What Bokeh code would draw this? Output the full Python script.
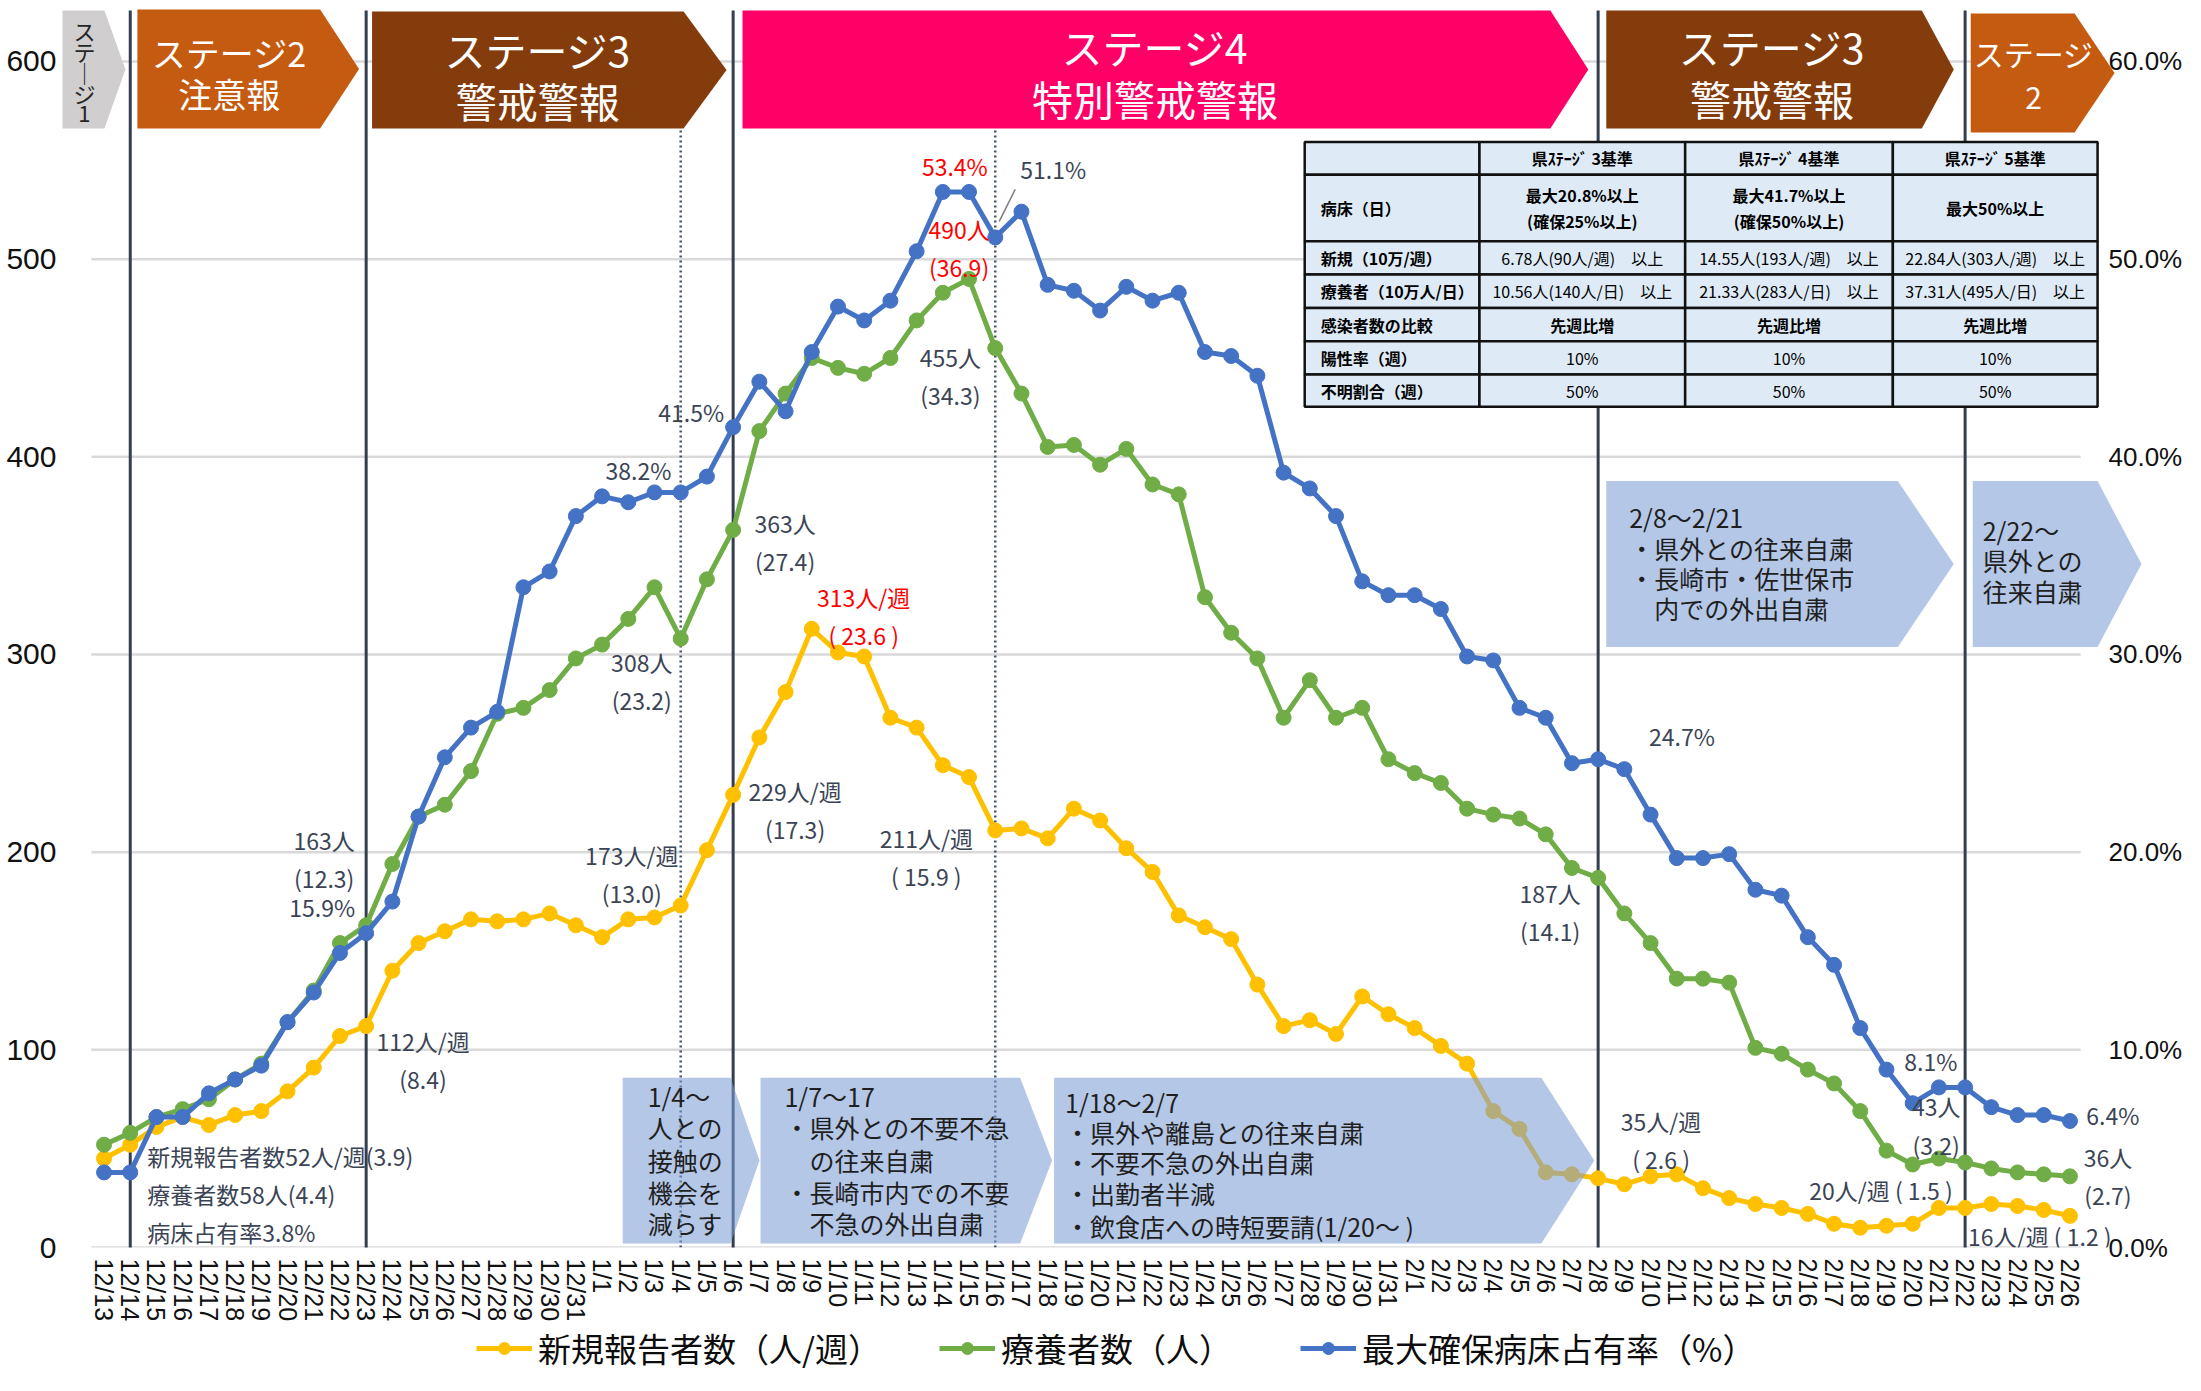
import math
from bokeh.plotting import figure
from bokeh.layouts import column
from bokeh.models import Range1d, LinearAxis, FixedTicker, PrintfTickFormatter, Legend, LegendItem
from bokeh.core.properties import value
from bokeh.embed import file_html
from bokeh.resources import INLINE

# ---------------- data ----------------
dates = ([f"12/{d}" for d in range(13, 32)] + [f"1/{d}" for d in range(1, 32)]
         + [f"2/{d}" for d in range(1, 27)])

new_cases = [45, 52, 61, 66, 62, 67, 69, 79, 91, 107,
             112, 140, 154, 160, 166, 165, 166, 169, 163, 157,
             166, 167, 173, 201, 229, 258, 281, 313, 301, 299,
             268, 263, 244, 238, 211, 212, 207, 222, 216, 202,
             190, 168, 162, 156, 133, 112, 115, 108, 127, 118,
             111, 102, 93, 69, 60, 38, 37, 35, 32, 36,
             37, 30, 25, 22, 20, 17, 12, 10, 11, 12,
             20, 20, 22, 21, 19, 16]

patients = [52, 58, 66, 70, 75, 85, 93, 114, 130, 154,
            163, 194, 218, 224, 241, 270, 273, 282, 298, 305,
            318, 334, 308, 338, 363, 413, 432, 450, 445, 442,
            450, 469, 483, 490, 455, 432, 405, 406, 396, 404,
            386, 381, 329, 311, 298, 268, 287, 268, 273, 247,
            240, 235, 222, 219, 217, 209, 192, 187, 169, 154,
            136, 136, 134, 101, 98, 90, 83, 69, 49, 42,
            45, 43, 40, 38, 37, 36]

bed_rate = [3.8, 3.8, 6.6, 6.6, 7.8, 8.5, 9.2, 11.4, 12.9, 14.9,
            15.9, 17.5, 21.8, 24.8, 26.3, 27.1, 33.4, 34.2, 37.0, 38.0,
            37.7, 38.2, 38.2, 39.0, 41.5, 43.8, 42.3, 45.3, 47.6, 46.9,
            47.9, 50.4, 53.4, 53.4, 51.1, 52.4, 48.7, 48.4, 47.4, 48.6,
            47.9, 48.3, 45.3, 45.1, 44.1, 39.2, 38.4, 37.0, 33.7, 33.0,
            33.0, 32.3, 29.9, 29.7, 27.3, 26.8, 24.5, 24.7, 24.2, 21.9,
            19.7, 19.7, 19.9, 18.1, 17.8, 15.7, 14.3, 11.1, 9.0, 7.3,
            8.1, 8.1, 7.1, 6.7, 6.7, 6.4]

left_ticks = [0, 100, 200, 300, 400, 500, 600]
right_ticks = [0, 10, 20, 30, 40, 50, 60]

legend_labels = ["新規報告者数（人/週）", "療養者数（人）", "最大確保病床占有率（%）"]
colors = ["#FFC000", "#70AD47", "#4472C4"]

# ---------------- layout helpers ----------------
W, H_MAIN, H_LEG = 2185, 1324, 51
FL, FR, FT, FB = 60, 2150, 0, 1248     # frame in figure px
X0, PXD = 103.6, 26.25                  # px of first date, px per day
PXU = 1.9783                            # px per unit on left axis
x_start = (FL - X0) / PXD
x_end = (FR - X0) / PXD
y_end = (FB - FT) / PXU

def gx(rx):  # picture x pixel -> data x
    return (rx - X0) / PXD

def gy(ry):  # picture y pixel -> data y
    return (FB - ry) / PXU

JP = value("Noto Sans CJK JP")

p = figure(width=W, height=H_MAIN, x_range=Range1d(x_start, x_end), y_range=Range1d(0, y_end),
           output_backend="svg", toolbar_location=None,
           min_border_left=FL, min_border_right=W - FR, min_border_top=FT,
           min_border_bottom=H_MAIN - FB)
p.xgrid.visible = False
p.ygrid.visible = False
p.outline_line_color = None
p.background_fill_color = "white"
p.border_fill_color = "white"

# left axis
ya = p.yaxis[0]
ya.ticker = FixedTicker(ticks=left_ticks)
ya.major_tick_in = 0
ya.major_tick_out = 0
ya.minor_tick_in = 0
ya.minor_tick_out = 0
ya.axis_line_color = None
ya.major_label_standoff = 4
ya.major_label_text_font = "Liberation Sans"
ya.major_label_text_font_size = "30px"
ya.major_label_text_color = "#111111"

# bottom axis
xa = p.xaxis[0]
xa.ticker = FixedTicker(ticks=list(range(len(dates))))
xa.major_label_overrides = {i: d for i, d in enumerate(dates)}
xa.major_label_orientation = "vertical"
xa.major_tick_in = 0
xa.major_tick_out = 0
xa.minor_tick_in = 0
xa.minor_tick_out = 0
xa.axis_line_color = None
xa.major_label_standoff = 11
xa.major_label_text_font = "Liberation Sans"
xa.major_label_text_font_size = "25px"
xa.major_label_text_color = "#111111"

# right axis
p.extra_y_ranges = {"pct": Range1d(0, y_end / 10)}
ra = LinearAxis(y_range_name="pct", ticker=FixedTicker(ticks=right_ticks),
                formatter=PrintfTickFormatter(format="%.1f%%"))
ra.major_tick_in = 0
ra.major_tick_out = 0
ra.minor_tick_in = 0
ra.minor_tick_out = 0
ra.axis_line_color = None
ra.major_label_standoff = 2111 - FR
ra.major_label_text_font = "Liberation Sans"
ra.major_label_text_font_size = "26px"
ra.major_label_text_color = "#111111"
p.add_layout(ra, "right")

# gridlines
p.segment(x0=[gx(91)] * len(left_ticks), x1=[gx(2083)] * len(left_ticks),
          y0=left_ticks, y1=left_ticks, line_color="#D9D9D9", line_width=2.5)

# vertical stage lines
for d in ["12/14", "12/23", "1/6", "2/8", "2/22"]:
    i = dates.index(d)
    p.segment(x0=[i], x1=[i], y0=[gy(10)], y1=[gy(1252)], line_color="#333F50", line_width=3)
for d in ["1/4", "1/16"]:
    i = dates.index(d)
    p.segment(x0=[i], x1=[i], y0=[gy(130)], y1=[gy(1252)], line_color="#44546A",
              line_width=2.5, line_dash="2 3")

# ---------------- stage banners ----------------
def pent(l, r, tip, t, b):
    m = (t + b) / 2
    return [gx(l), gx(r), gx(tip), gx(r), gx(l)], [gy(t), gy(t), gy(m), gy(b), gy(b)]

banners = [
    ((62, 104, 125, 10, 128), "#D0CECE"),
    ((137, 320, 359, 9, 128), "#C55A11"),
    ((372, 684, 727, 11, 128), "#843C0C"),
    ((743, 1552, 1590, 10, 128), "#FF0066"),
    ((1608, 1924, 1956, 10, 128), "#843C0C"),
    ((1973, 2077, 2117, 13, 132), "#C55A11"),
]
for geo, col in banners:
    xs, ys = pent(*geo)
    p.patch(xs, ys, fill_color=col, line_color=None)

def txt(rx, ry, s, size, color, align="center", bold=False):
    p.text(x=[gx(rx)], y=[gy(ry)], text=[s], text_font=JP, text_font_size=f"{size}px",
           text_color=color, text_align=align, text_baseline="middle",
           text_font_style="bold" if bold else "normal", text_line_height=1.15)

for ch, ry in zip(["ス", "テ", "｜", "ジ", "1"], [30, 51, 72, 93, 114]):
    txt(84, ry, ch, 22, "#262626")
txt(229, 52, "ステージ2", 34, "white")
txt(229, 93, "注意報", 34, "white")
txt(538, 49, "ステージ3", 41, "white")
txt(538, 100, "警戒警報", 41, "white")
txt(1156, 46, "ステージ4", 41, "white")
txt(1156, 98, "特別警戒警報", 41, "white")
txt(1774, 46, "ステージ3", 41, "white")
txt(1774, 98, "警戒警報", 41, "white")
txt(2036, 53, "ステージ", 30, "white")
txt(2036, 98, "2", 30, "white")

# ---------------- data series ----------------
xi = list(range(len(dates)))
p.line(xi, new_cases, line_color=colors[0], line_width=5)
p.scatter(xi, new_cases, size=15, fill_color=colors[0], line_color=colors[0])
p.line(xi, patients, line_color=colors[1], line_width=5)
p.scatter(xi, patients, size=15, fill_color=colors[1], line_color=colors[1])
p.line(xi, bed_rate, line_color=colors[2], line_width=5, y_range_name="pct")
p.scatter(xi, bed_rate, size=15, fill_color=colors[2], line_color=colors[2], y_range_name="pct")

# ---------------- data labels ----------------
series = {"new": new_cases, "pat": patients, "bed": [v * 10 for v in bed_rate]}
GRAY = "#3B4455"
RED = "#FF0000"
labels = [
    ("12/23", "pat", "163人\n(12.3)", -42, -66, "center", GRAY),
    ("12/23", "bed", "15.9%", -44, -26, "center", GRAY),
    ("12/23", "new", "112人/週\n(8.4)", 57, 34, "center", GRAY),
    ("12/14", "new", "新規報告者数52人/週(3.9)\n療養者数58人(4.4)\n病床占有率3.8%", 17, 49, "left", GRAY),
    ("1/3", "bed", "38.2%", -16, -22, "center", GRAY),
    ("1/6", "bed", "41.5%", -42, -15, "center", GRAY),
    ("1/4", "pat", "308人\n(23.2)", -39, 42, "center", GRAY),
    ("1/4", "new", "173人/週\n(13.0)", -49, -32, "center", GRAY),
    ("1/6", "pat", "363人\n(27.4)", 52, 12, "center", GRAY),
    ("1/6", "new", "229人/週\n(17.3)", 62, 15, "center", GRAY),
    ("1/9", "new", "313人/週\n( 23.6 )", 52, -13, "center", RED),
    ("1/14", "bed", "53.4%", 12, -26, "center", RED),
    ("1/15", "pat", "490人\n(36.9)", -10, -31, "center", RED),
    ("1/16", "bed", "51.1%", 58, -68, "center", GRAY),
    ("1/16", "pat", "455人\n(34.3)", -45, 28, "center", GRAY),
    ("1/16", "new", "211人/週\n( 15.9 )", -69, 27, "center", GRAY),
    ("2/8", "pat", "187人\n(14.1)", -48, 34, "center", GRAY),
    ("2/8", "new", "35人/週\n( 2.6 )", 63, -38, "center", GRAY),
    ("2/8", "bed", "24.7%", 84, -23, "center", GRAY),
    ("2/21", "bed", "8.1%", -8, -26, "center", GRAY),
    ("2/22", "pat", "43人\n(3.2)", -29, -37, "center", GRAY),
    ("2/21", "new", "20人/週 ( 1.5 )", -58, -18, "center", GRAY),
    ("2/26", "new", "16人/週 ( 1.2 )", -102, 20, "left", GRAY),
    ("2/26", "bed", "6.4%", 43, -6, "center", GRAY),
    ("2/26", "pat", "36人\n(2.7)", 38, 0, "center", GRAY),
]
for d, s, t, dx, dy, al, col in labels:
    i = dates.index(d)
    p.text(x=[i + dx / PXD], y=[series[s][i] - dy / PXU], text=[t], text_font=JP,
           text_font_size="23px", text_color=col, text_align=al, text_baseline="middle",
           text_line_height=1.12)
# leader line for 51.1%
i34 = dates.index("1/16")
yb = series["bed"][i34]
p.segment(x0=[i34 + 20 / PXD], y0=[yb + 48 / PXU], x1=[i34 + 4 / PXD], y1=[yb + 16 / PXU],
          line_color="#7F7F7F", line_width=1.5)

# ---------------- measure arrows ----------------
arrows = [
    (623, 731, 760, 1078, 1244),
    (761, 1021, 1053, 1078, 1244),
    (1055, 1543, 1596, 1078, 1244),
    (1608, 1900, 1956, 481, 647),
    (1975, 2100, 2144, 481, 647),
]
for geo in arrows:
    xs, ys = pent(*geo)
    p.patch(xs, ys, fill_color="#7B9CD4", fill_alpha=0.57, line_color=None)

ATXT = "#1F1F1F"
arrow_lines = [
    (648, [(1096, "1/4～"), (1127, "人との"), (1160, "接触の"), (1192, "機会を"), (1223, "減らす")]),
    (785, [(1096, "1/7～17"), (1127, "・県外との不要不急"), (1160, "　の往来自粛"),
           (1192, "・長崎市内での不要"), (1223, "　不急の外出自粛")]),
    (1066, [(1102, "1/18～2/7"), (1132, "・県外や離島との往来自粛"), (1162, "・不要不急の外出自粛"),
            (1193, "・出勤者半減"), (1226, "・飲食店への時短要請(1/20～ )")]),
    (1631, [(517, "2/8～2/21"), (548, "・県外との往来自粛"), (578, "・長崎市・佐世保市"),
            (608, "　内での外出自粛")]),
    (1985, [(530, "2/22～"), (560, "県外との"), (591, "往来自粛")]),
]
for rx, lines in arrow_lines:
    for ry, s in lines:
        txt(rx, ry, s, 25, ATXT, align="left")

# ---------------- criteria table ----------------
col_b = [1306, 1481, 1687, 1895, 2100]
row_b = [141.7, 174.3, 241, 274.3, 307.7, 341, 374.3, 406.7]
lefts, rights, tops, bottoms = [], [], [], []
for r in range(len(row_b) - 1):
    for c in range(len(col_b) - 1):
        lefts.append(gx(col_b[c])); rights.append(gx(col_b[c + 1]))
        tops.append(gy(row_b[r])); bottoms.append(gy(row_b[r + 1]))
p.quad(left=lefts, right=rights, top=tops, bottom=bottoms, fill_color="#DEEBF7",
       line_color="#111111", line_width=2.5)

table_rows = [
    ("", "県ｽﾃｰｼﾞ 3基準", "県ｽﾃｰｼﾞ 4基準", "県ｽﾃｰｼﾞ 5基準"),
    ("病床（日）", "最大20.8%以上\n(確保25%以上)", "最大41.7%以上\n(確保50%以上)", "最大50%以上"),
    ("新規（10万/週）", "6.78人(90人/週)　以上", "14.55人(193人/週)　以上", "22.84人(303人/週)　以上"),
    ("療養者（10万人/日）", "10.56人(140人/日)　以上", "21.33人(283人/日)　以上", "37.31人(495人/日)　以上"),
    ("感染者数の比較", "先週比増", "先週比増", "先週比増"),
    ("陽性率（週）", "10%", "10%", "10%"),
    ("不明割合（週）", "50%", "50%", "50%"),
]
for r, row in enumerate(table_rows):
    cy = (row_b[r] + row_b[r + 1]) / 2
    for c, s in enumerate(row):
        if not s:
            continue
        if c == 0:
            txt(1322, cy, s, 16, "#000000", align="left", bold=True)
        else:
            cx = (col_b[c] + col_b[c + 1]) / 2
            bold = r in (0, 1, 4)
            p.text(x=[gx(cx)], y=[gy(cy)], text=[s], text_font=JP, text_font_size="16px",
                   text_color="#000000", text_align="center", text_baseline="middle",
                   text_font_style="bold" if bold else "normal", text_line_height=1.1)

# ---------------- legend strip ----------------
pl = figure(width=W, height=H_LEG, x_range=Range1d(0, 1), y_range=Range1d(0, 1),
            x_axis_type=None, y_axis_type=None,
            output_backend="svg", toolbar_location=None,
            min_border_left=0, min_border_right=0, min_border_top=0, min_border_bottom=0)
pl.xgrid.visible = False
pl.ygrid.visible = False
pl.outline_line_color = None
legend_x = [416, 879, 1240]
for lab, col, lx in zip(legend_labels, colors, legend_x):
    # off-range placeholder renderers: only used to draw the legend swatch
    rl = pl.line(x=[5, 6], y=[5, 5], line_color=col, line_width=5)
    rs = pl.scatter(x=[5], y=[5], size=15, fill_color=col, line_color=col)
    lg = Legend(items=[LegendItem(label=lab, renderers=[rl, rs])], orientation="horizontal",
                location=(lx, 3), glyph_width=56, glyph_height=30, label_standoff=6,
                padding=0, margin=0, border_line_color=None, background_fill_alpha=0,
                label_text_font="Noto Sans CJK JP", label_text_font_size="33px",
                label_text_color="#0D0D0D")
    pl.add_layout(lg)

open("out.html", "w").write(file_html(column(p, pl), INLINE))
